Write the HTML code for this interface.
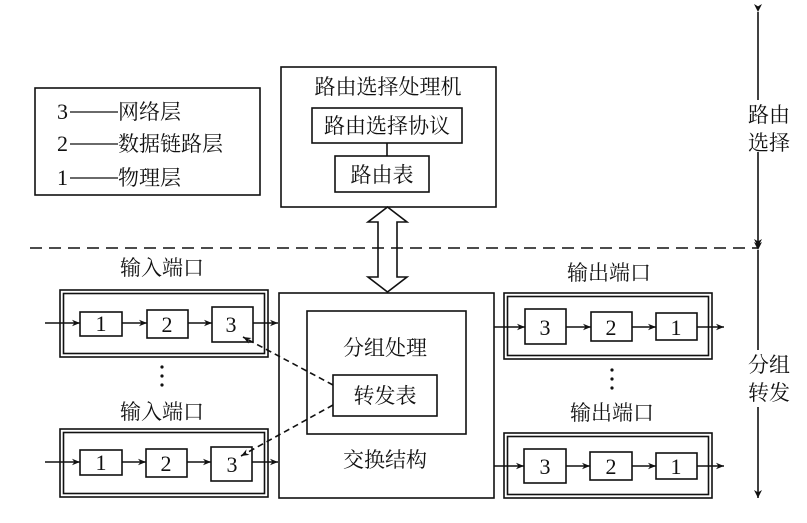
<!DOCTYPE html>
<html><head><meta charset="utf-8"><style>
html,body{margin:0;padding:0;background:#fff;}
svg{display:block;}
.c{font-family:"Liberation Serif","Noto Serif CJK SC","Noto Sans CJK SC",serif;font-size:21px;fill:#111;}
.d{font-family:"Liberation Serif",serif;font-size:22px;fill:#111;}
</style></head><body>
<svg width="807" height="523" viewBox="0 0 807 523" xmlns="http://www.w3.org/2000/svg">
<defs>
<marker id="a" viewBox="0 0 10 10" refX="10" refY="5" markerWidth="10" markerHeight="8" orient="auto" markerUnits="userSpaceOnUse"><path d="M0,1 L10,5 L0,9 L3,5 z" fill="#111"/></marker>
<marker id="v" viewBox="0 0 10 10" refX="10" refY="5" markerWidth="14" markerHeight="8" orient="auto" markerUnits="userSpaceOnUse"><path d="M0,0 L10,5 L0,10 L3,5 z" fill="#111"/></marker>
</defs>
<g fill="none" stroke="#111" stroke-width="1.6">
<rect x="35" y="88" width="225" height="107"/>
<rect x="281" y="67" width="215" height="140"/>
<rect x="312" y="108" width="150" height="35"/>
<line x1="387" y1="143" x2="387" y2="156"/>
<rect x="335" y="156" width="94" height="36"/>
<path d="M387.5,207 L407,222 L397,222 L397,277 L407,277 L387.5,292 L368,277 L378,277 L378,222 L368,222 Z" fill="#fff"/>
<line x1="30" y1="248" x2="758" y2="248" stroke-dasharray="12,7"/>
<line x1="758" y1="12" x2="758" y2="100" marker-start="url(#v)"/>
<line x1="758" y1="152" x2="758" y2="247" marker-end="url(#v)"/>
<line x1="758" y1="250" x2="758" y2="350" marker-start="url(#v)"/>
<line x1="758" y1="407" x2="758" y2="498" marker-end="url(#v)"/>
<rect x="279" y="293" width="215" height="205"/>
<rect x="307" y="311" width="159" height="123"/>
<rect x="333" y="375" width="104" height="41"/>
<rect x="60" y="290" width="208" height="67"/><rect x="63.5" y="293.5" width="201" height="60"/>
<rect x="60" y="429" width="208" height="68"/><rect x="63.5" y="432.5" width="201" height="61"/>
<rect x="80" y="312" width="42" height="24"/><rect x="147" y="310" width="41" height="28"/><rect x="212" y="307" width="41" height="35"/>
<rect x="80" y="450" width="42" height="25"/><rect x="146" y="449" width="41" height="28"/><rect x="211" y="447" width="41" height="34"/>
<line x1="45" y1="323" x2="80" y2="323" marker-end="url(#a)"/>
<line x1="122" y1="323" x2="147" y2="323" marker-end="url(#a)"/>
<line x1="188" y1="323" x2="212" y2="323" marker-end="url(#a)"/>
<line x1="253" y1="323" x2="278" y2="323" marker-end="url(#a)"/>
<line x1="45" y1="462" x2="80" y2="462" marker-end="url(#a)"/>
<line x1="122" y1="462" x2="146" y2="462" marker-end="url(#a)"/>
<line x1="187" y1="462" x2="211" y2="462" marker-end="url(#a)"/>
<line x1="252" y1="462" x2="278" y2="462" marker-end="url(#a)"/>
<line x1="333" y1="385" x2="243" y2="337" stroke-dasharray="6,4" marker-end="url(#a)"/>
<line x1="333" y1="405" x2="241" y2="456" stroke-dasharray="6,4" marker-end="url(#a)"/>
<rect x="504" y="293" width="208" height="66"/><rect x="507.5" y="296.5" width="201" height="59"/>
<rect x="504" y="433" width="208" height="65"/><rect x="507.5" y="436.5" width="201" height="58"/>
<rect x="525" y="309" width="41" height="35"/><rect x="591" y="312" width="41" height="29"/><rect x="656" y="313" width="41" height="27"/>
<rect x="524" y="449" width="42" height="34"/><rect x="590" y="452" width="42" height="28"/><rect x="656" y="453" width="41" height="26"/>
<line x1="494" y1="327" x2="525" y2="327" marker-end="url(#a)"/>
<line x1="566" y1="327" x2="591" y2="327" marker-end="url(#a)"/>
<line x1="632" y1="327" x2="656" y2="327" marker-end="url(#a)"/>
<line x1="697" y1="327" x2="724" y2="327" marker-end="url(#a)"/>
<line x1="494" y1="466" x2="524" y2="466" marker-end="url(#a)"/>
<line x1="566" y1="466" x2="590" y2="466" marker-end="url(#a)"/>
<line x1="632" y1="466" x2="656" y2="466" marker-end="url(#a)"/>
<line x1="697" y1="466" x2="724" y2="466" marker-end="url(#a)"/>
</g>
<g fill="#111"><circle cx="162" cy="367" r="1.6"/><circle cx="162" cy="376" r="1.6"/><circle cx="162" cy="385" r="1.6"/>
<circle cx="612" cy="370" r="1.6"/><circle cx="612" cy="379" r="1.6"/><circle cx="612" cy="388" r="1.6"/></g>
<text class="d" x="57" y="119">3</text><line x1="70" y1="112" x2="118" y2="112" stroke="#111" stroke-width="1.2"/><text class="c" x="118" y="119">网络层</text>
<text class="d" x="57" y="151">2</text><line x1="70" y1="144" x2="118" y2="144" stroke="#111" stroke-width="1.2"/><text class="c" x="118" y="151">数据链路层</text>
<text class="d" x="57" y="185">1</text><line x1="70" y1="178" x2="118" y2="178" stroke="#111" stroke-width="1.2"/><text class="c" x="118" y="185">物理层</text>
<g class="c" text-anchor="middle">
<text x="388" y="94">路由选择处理机</text>
<text x="387" y="133">路由选择协议</text>
<text x="382" y="182">路由表</text>
<text x="769" y="122">路由</text>
<text x="769" y="150">选择</text>
<text x="769" y="372">分组</text>
<text x="769" y="400">转发</text>
<text x="162" y="275">输入端口</text>
<text x="162" y="419">输入端口</text>
<text x="609" y="280">输出端口</text>
<text x="612" y="420">输出端口</text>
<text x="385" y="355">分组处理</text>
<text x="385" y="403">转发表</text>
<text x="385" y="467">交换结构</text>
</g>
<g class="d" text-anchor="middle">
<text x="101" y="331">1</text><text x="167" y="332">2</text><text x="231" y="332">3</text>
<text x="101" y="470">1</text><text x="166" y="471">2</text><text x="232" y="472">3</text>
<text x="545" y="335">3</text><text x="611" y="335">2</text><text x="676" y="335">1</text>
<text x="545" y="474">3</text><text x="611" y="474">2</text><text x="676" y="474">1</text>
</g>
</svg>
</body></html>
